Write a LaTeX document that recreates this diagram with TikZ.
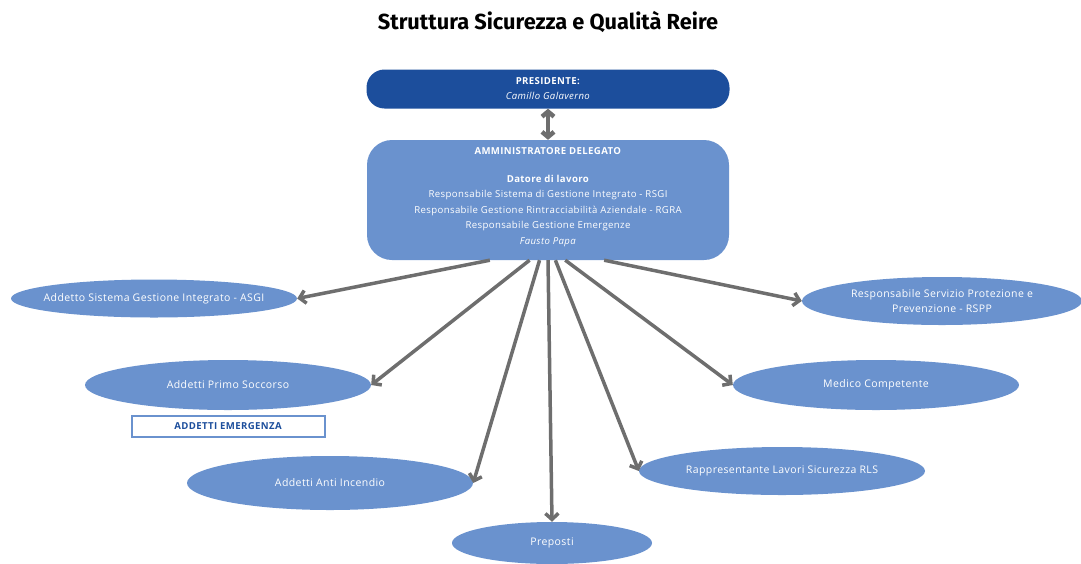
\documentclass[tikz,border=0pt]{standalone}
\usepackage{fontspec}
\setmainfont{Open Sans}[LetterSpace=4]
\newfontfamily\titlefont{Fira Sans}
\usetikzlibrary{shapes,arrows.meta,positioning}
\definecolor{darkblue}{RGB}{28,78,156}
\definecolor{lightblue}{RGB}{106,146,206}
\definecolor{arrowgray}{RGB}{110,110,110}

\begin{document}
\begin{tikzpicture}[x=1pt,y=-1pt,
    role/.style={ellipse,fill=lightblue,inner sep=0pt,minimum width=286pt,minimum height=48pt,
      label={[text=white,align=center,font=\fontsize{10.5}{15}\selectfont]center:#1}},
    link/.style={draw=arrowgray,line width=3.5pt,-{Straight Barb[length=6pt,width=13pt]}}]
  \useasboundingbox (0,0) rectangle (1081,563);

  \node[font=\titlefont\bfseries\fontsize{21.8}{26}\selectfont] (title) at (548,22) {Struttura Sicurezza e Qualità Reire};

  \node[rounded corners=18pt,fill=darkblue,text=white,minimum width=363pt,minimum height=39pt,
    align=center,font=\fontsize{9.6}{15}\selectfont] (pres) at (548,89)
    {\textbf{PRESIDENTE:}\\ \textit{Camillo Galaverno}};
  \node[rounded corners=25pt,fill=lightblue,minimum width=362pt,minimum height=120pt,
    label={[text=white,align=center,font=\fontsize{9.6}{15.5}\selectfont,yshift=3pt]center:{
      \textbf{AMMINISTRATORE DELEGATO}\\[12pt]
      \textbf{Datore di lavoro}\\
      Responsabile Sistema di Gestione Integrato - RSGI\\
      Responsabile Gestione Rintracciabilità Aziendale - RGRA\\
      Responsabile Gestione Emergenze\\
      \textit{Fausto Papa}}}] (ad) at (548,200) {};

  \node[role={Addetto Sistema Gestione Integrato - ASGI},minimum height=38pt] (asgi) at (154,298.5) {};
  \node[role={Addetti Primo Soccorso},minimum height=50pt] (soccorso) at (228,385) {};
  \node[draw=lightblue,line width=2pt,fill=white,minimum width=193pt,minimum height=21pt,inner sep=0pt,
    text=darkblue,font=\bfseries\fontsize{9.6}{11}\selectfont] (emergenza) at (228,426) {ADDETTI EMERGENZA};
  \node[role={Addetti Anti Incendio},minimum height=54pt] (incendio) at (330,483) {};
  \node[role={Preposti},minimum width=200pt,minimum height=42pt] (preposti) at (552,543) {};
  \node[role={Rappresentante Lavori Sicurezza RLS}] (rls) at (782,471) {};
  \node[role={Medico Competente},minimum height=50pt] (medico) at (876,385) {};
  \node[role={Responsabile Servizio Protezione e\\Prevenzione - RSPP},minimum width=280pt] (rspp) at (942,301) {};

  \draw[link,line width=4.5pt,{Straight Barb[length=5pt,width=12pt]}-{Straight Barb[length=5pt,width=12pt]}] (pres) -- (ad);
  \draw[link] (ad.226) -- (asgi.east);
  \draw[link] (ad.253) -- (soccorso.east);
  \draw[link] (ad.262) -- (incendio.east);
  \draw[link] (ad.270) -- (preposti.north);
  \draw[link] (ad.277) -- (rls.west);
  \draw[link] (ad.286) -- (medico.west);
  \draw[link] (ad.313) -- (rspp.west);
\end{tikzpicture}
\end{document}
